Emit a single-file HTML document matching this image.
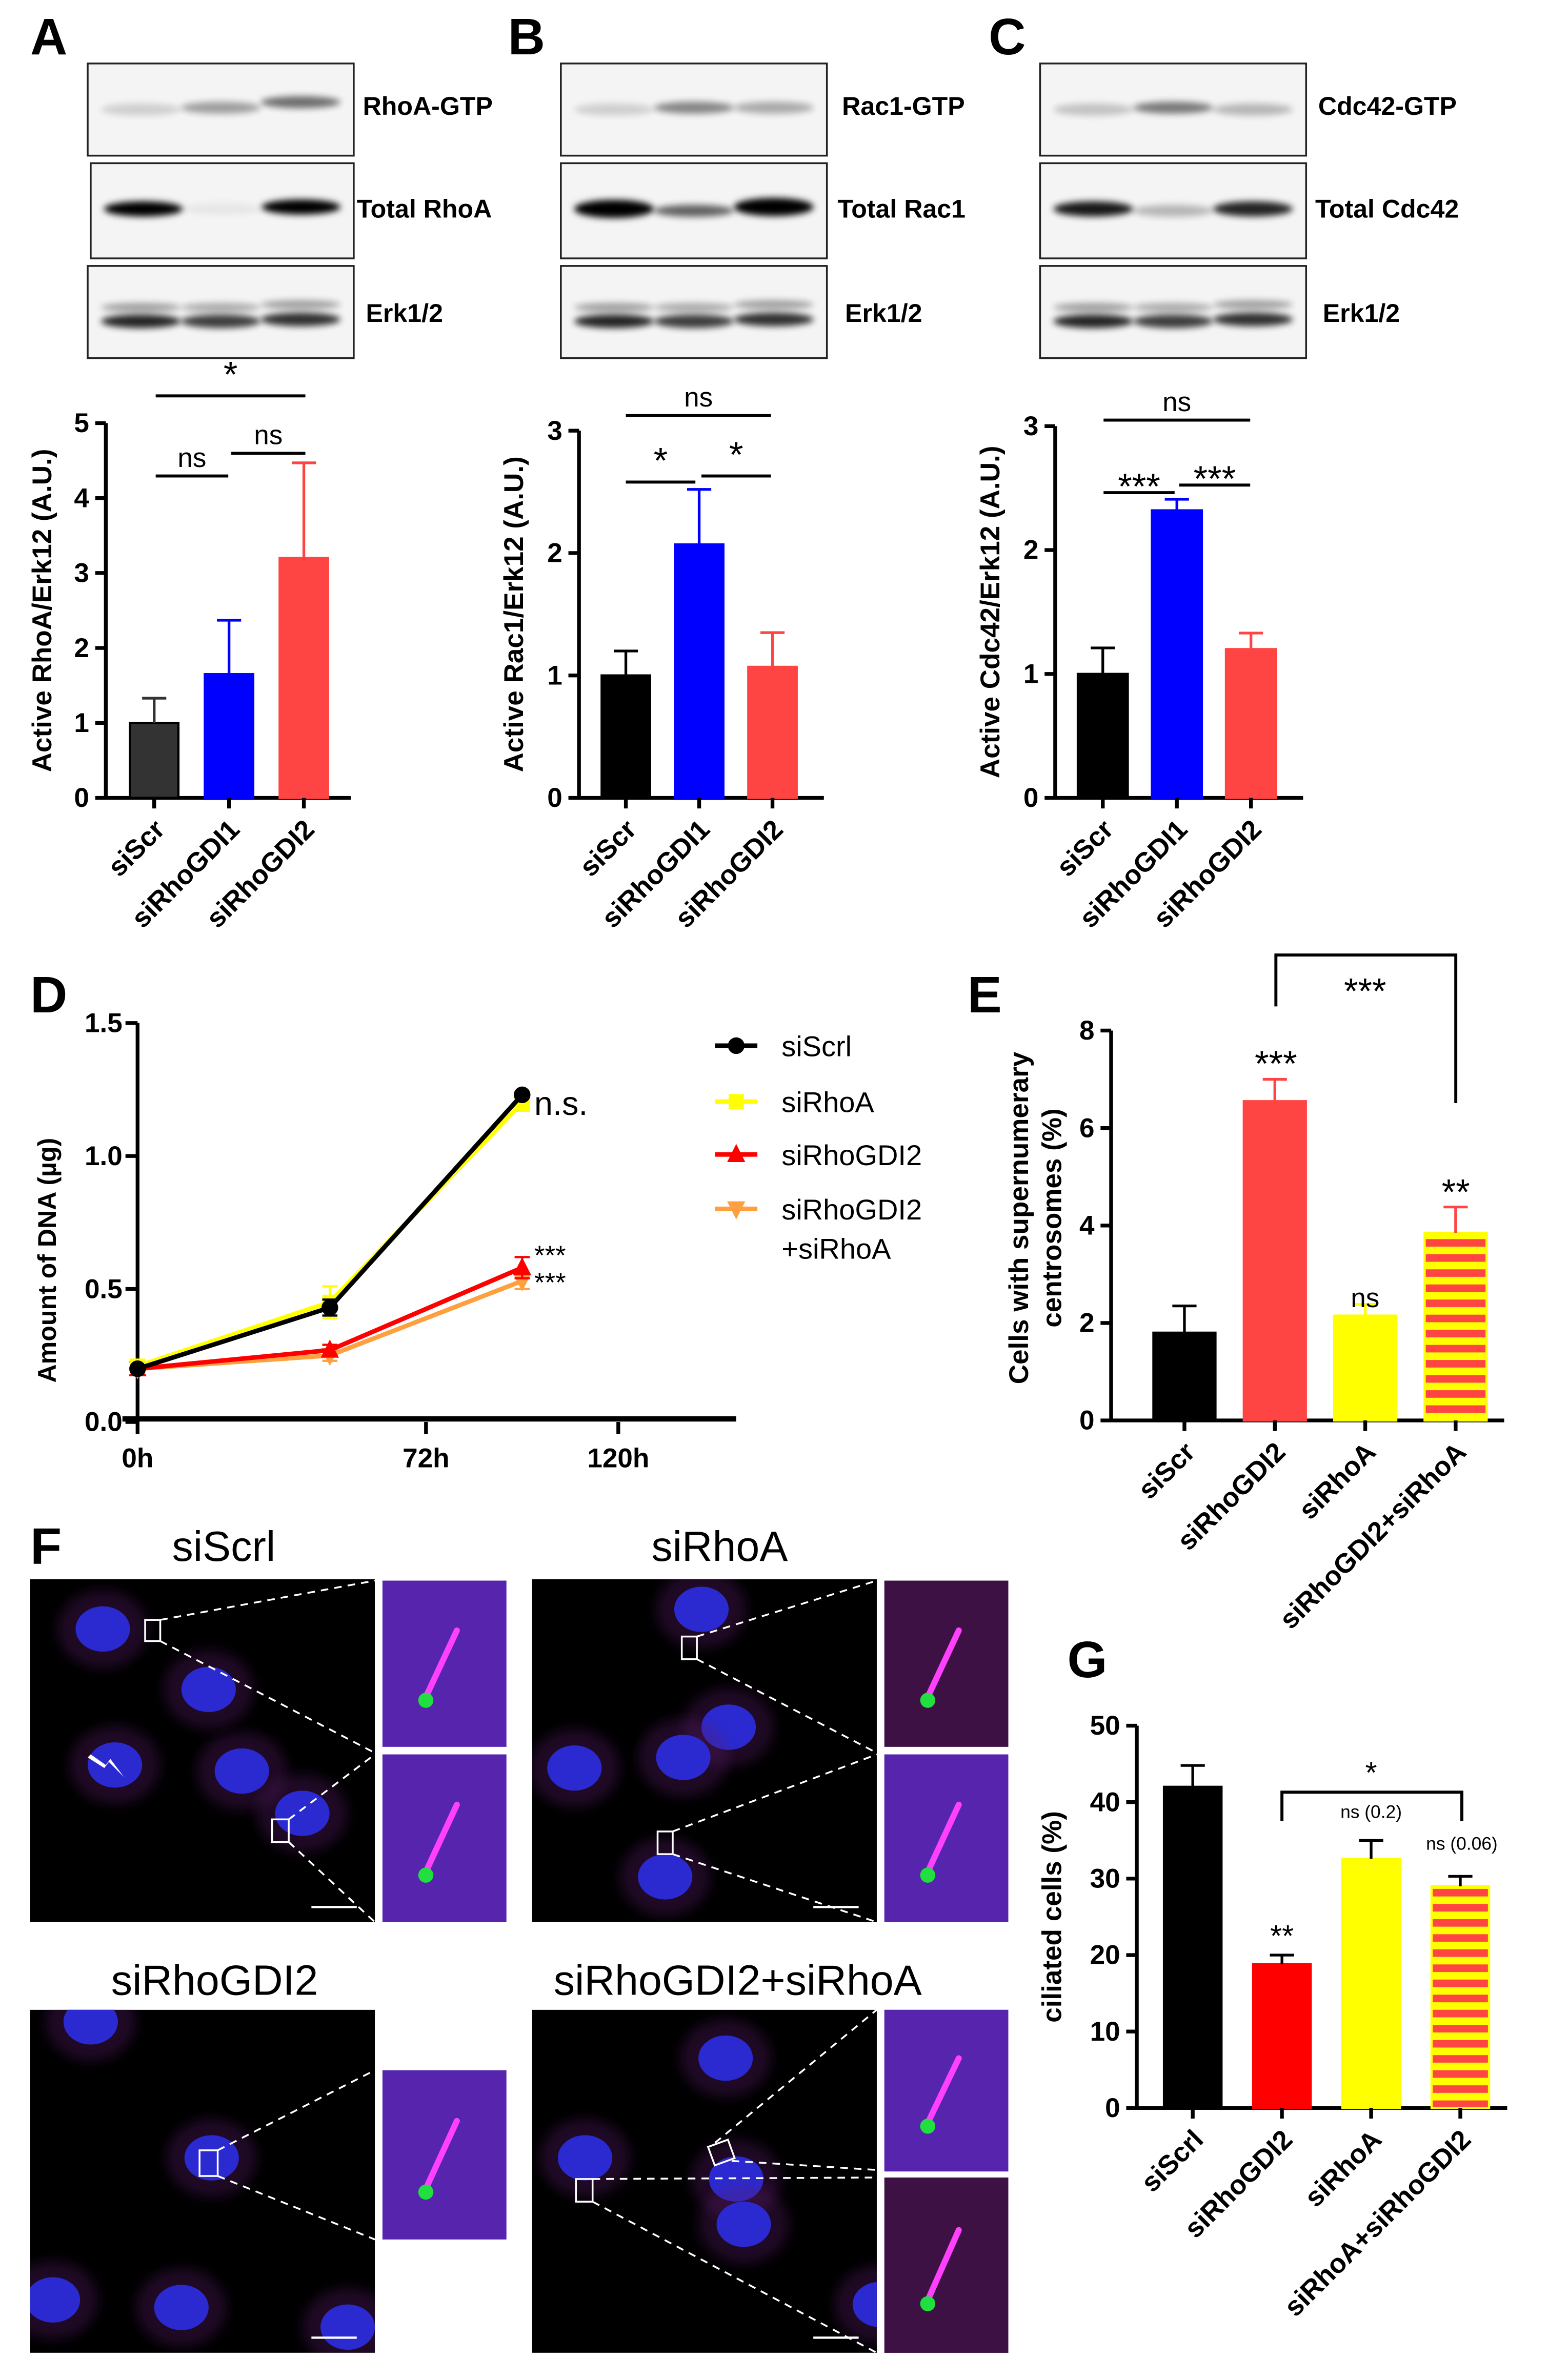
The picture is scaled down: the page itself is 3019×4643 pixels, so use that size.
<!DOCTYPE html>
<html><head><meta charset="utf-8"><style>
html,body{margin:0;padding:0;background:#fff}
svg{display:block}
text{font-family:"Liberation Sans",Arial,sans-serif}
</style></head><body>
<svg id="fig" width="3019" height="4643" viewBox="0 0 1024 1575" preserveAspectRatio="none" xmlns="http://www.w3.org/2000/svg">
<defs>
<filter id="blur" x="-50%" y="-200%" width="200%" height="500%"><feGaussianBlur stdDeviation="2.2"/></filter>
<filter id="blur2" x="-50%" y="-50%" width="200%" height="200%"><feGaussianBlur stdDeviation="4"/></filter>
<pattern id="stripe" width="10" height="10" patternUnits="userSpaceOnUse"><rect width="10" height="10" fill="#ffff00"/><rect width="10" height="5" fill="#ff4444"/></pattern>
<pattern id="stripeG" width="10" height="10" patternUnits="userSpaceOnUse"><rect width="10" height="10" fill="#ffff00"/><rect width="10" height="5" fill="#ff4444"/></pattern>
</defs>
<g id="root"></g>
</svg>
<script>
// ---------- DATA ----------
const catsABC = ["siScr","siRhoGDI1","siRhoGDI2"];
const rhoaVals = [1.0, 1.65, 3.2];
const rhoaErr = [1.33, 2.37, 4.47];
const rac1Vals = [1.0, 2.07, 1.07];
const rac1Err = [1.2, 2.52, 1.35];
const cdc42Vals = [1.0, 2.32, 1.2];
const cdc42Err = [1.21, 2.41, 1.33];
const ticksA = [0,1,2,3,4,5];
const ticksBC = [0,1,2,3];

const timeH = [0, 48, 96];
const dScrl = [0.2, 0.43, 1.23];
const dRhoA = [0.21, 0.45, 1.2];
const dGDI2 = [0.2, 0.27, 0.58];
const dGDI2RhoA = [0.2, 0.25, 0.53];
const dErrScrl = [0.01, 0.03, 0.01];
const dErrRhoA = [0.01, 0.06, 0.03];
const dErrGDI2 = [0.01, 0.02, 0.04];
const dErrGDI2RhoA = [0.01, 0.02, 0.03];
const ticksDy = [0, 0.5, 1.0, 1.5];
const ticksDx = [0, 72, 120];

const catsE = ["siScr","siRhoGDI2","siRhoA","siRhoGDI2+siRhoA"];
const eVals = [1.8, 6.55, 2.15, 3.85];
const eErr = [2.35, 7.0, 2.38, 4.38];
const ticksE = [0,2,4,6,8];

const catsG = ["siScrl","siRhoGDI2","siRhoA","siRhoA+siRhoGDI2"];
const gVals = [42, 18.8, 32.6, 29];
const gErr = [44.8, 20.0, 35.0, 30.3];
const ticksG = [0,10,20,30,40,50];

// ---------- HELPERS ----------
const NS="http://www.w3.org/2000/svg";
const root=document.getElementById('root');
const defs=document.querySelector('defs');
function el(tag,attrs,parent,txt){const e=document.createElementNS(NS,tag);for(const k in attrs)e.setAttribute(k,attrs[k]);if(txt!==undefined)e.textContent=txt;(parent||root).appendChild(e);return e;}
function grp(name){const g=el('g',{});


return g;}
function label(t,x,y){const e=el('text',{x:x,y:y,'font-size':34,'font-weight':'bold'},root,t);

}

// ---------- BLOTS ----------
function blot(name,x,y,w,h,bands){const g=grp(name);
el('rect',{x:x,y:y,width:w,height:h,fill:'#f4f4f4',stroke:'#222','stroke-width':1.2},g);
bands.forEach(b=>{el('ellipse',{cx:x+w*b[0],cy:y+h*b[1],rx:w*0.15,ry:b[3],fill:'#000',opacity:b[2],filter:'url(#blur)'},g);});
return g;}
function blotLabel(t,x,y){const e=el('text',{x:x,y:y,'font-size':17,'font-weight':'bold'},root,t);

}
function erk(name,x,y,w,h){return blot(name,x,y,w,h,[[0.2,0.45,0.35,3],[0.5,0.45,0.3,3],[0.8,0.42,0.35,3],[0.2,0.6,0.85,4.5],[0.5,0.6,0.75,4.5],[0.8,0.58,0.8,4.5]]);}

// ---------- BAR CHART ----------
function barChart(opt){
 const g=grp(opt.name);
 const y=v=>opt.y0-(v/opt.ymax)*(opt.y0-opt.ytop);
 el('line',{x1:opt.ax,y1:opt.ytop,x2:opt.ax,y2:opt.y0+1,stroke:'#000','stroke-width':2.5},g);
 el('line',{x1:opt.ax,y1:opt.y0,x2:opt.xend,y2:opt.y0,stroke:'#000','stroke-width':2.5},g);
 opt.ticks.forEach(t=>{el('line',{x1:opt.ax-7,y1:y(t),x2:opt.ax,y2:y(t),stroke:'#000','stroke-width':2.5},g);
  el('text',{x:opt.ax-11,y:y(t)+6,'font-size':opt.tfs||18,'font-weight':'bold','text-anchor':'end'},g,String(t));});
 opt.vals.forEach((v,i)=>{const bx=opt.x0+i*opt.step;
  const r=el('rect',{x:bx,y:y(v),width:opt.bw,height:opt.y0-y(v),fill:opt.fills[i],stroke:opt.strokes?opt.strokes[i]:'#000','stroke-width':1.5},g);
  
  
  const cx=bx+opt.bw/2, ec=opt.errc[i];
  el('line',{x1:cx,y1:y(v),x2:cx,y2:y(opt.err[i]),stroke:ec,'stroke-width':1.8},g);
  el('line',{x1:cx-8,y1:y(opt.err[i]),x2:cx+8,y2:y(opt.err[i]),stroke:ec,'stroke-width':1.8},g);
  el('line',{x1:cx,y1:opt.y0,x2:cx,y2:opt.y0+7,stroke:'#000','stroke-width':2.5},g);
  const tx=cx+8, ty=opt.y0+22;
  el('text',{x:tx,y:ty,'font-size':opt.cfs||18,'font-weight':'bold','text-anchor':'end',transform:`rotate(-45 ${tx} ${ty})`},g,opt.cats[i]);
 });
 const tl=el('text',{x:0,y:0,'font-size':opt.yfs||18,'font-weight':'bold','text-anchor':'middle',transform:`translate(${opt.ylx},${(opt.y0+opt.ytop)/2+opt.yloff}) rotate(-90)`},g);
 opt.ylabel.forEach((l,k)=>{el('tspan',{x:0,dy:k?22:0},tl,l);});
 
 
 return {g,y,cx:i=>opt.x0+i*opt.step+opt.bw/2};
}
function sig(g,x1,x2,yy,t,fs,dy){el('line',{x1:x1,y1:yy,x2:x2,y2:yy,stroke:'#000','stroke-width':2},g);
 el('text',{x:(x1+x2)/2,y:yy-(dy||6),'font-size':fs||18,'text-anchor':'middle'},g,t);}

// Panel A
label('A',20,36);
blot('blot-rhoa-gtp',58,42,176,61,[[0.2,0.5,0.15,4],[0.5,0.48,0.35,4],[0.8,0.42,0.55,4]]);
blotLabel('RhoA-GTP',240,76);
blot('blot-total-rhoa',60,108,174,63,[[0.2,0.48,1,5],[0.5,0.48,0.05,4],[0.8,0.46,1,5]]);
blotLabel('Total RhoA',236,144);
erk('blot-erk-a',58,176,176,61);
blotLabel('Erk1/2',242,213);
let A=barChart({name:'chart-a',ax:70,ytop:280,y0:528,ymax:5,xend:232,ticks:ticksA,vals:rhoaVals,err:rhoaErr,cats:catsABC,x0:86,step:49.5,bw:32,
 fills:['#333333','#0000ff','#ff4444'],strokes:['#000','#0000ff','#ff4444'],errc:['#333','#0000ff','#ff4444'],ylabel:['Active RhoA/Erk12 (A.U.)'],ylx:34,yloff:0});
sig(A.g,103,202,262,'*',24,0);sig(A.g,103,151,315,'ns');sig(A.g,153,202,300,'ns');

// Panel B
label('B',336,36);
blot('blot-rac1-gtp',371,42,176,61,[[0.2,0.5,0.15,4],[0.5,0.48,0.45,4],[0.8,0.48,0.3,4]]);
blotLabel('Rac1-GTP',557,76);
blot('blot-total-rac1',371,108,176,63,[[0.2,0.48,1,6],[0.5,0.5,0.6,4],[0.8,0.46,1,6]]);
blotLabel('Total Rac1',554,144);
erk('blot-erk-b',371,176,176,61);
blotLabel('Erk1/2',559,213);
let B=barChart({name:'chart-b',ax:383,ytop:285,y0:528,ymax:3,xend:545,ticks:ticksBC,vals:rac1Vals,err:rac1Err,cats:catsABC,x0:398,step:48.5,bw:32,
 fills:['#000','#0000ff','#ff4444'],strokes:['#000','#0000ff','#ff4444'],errc:['#000','#0000ff','#ff4444'],ylabel:['Active Rac1/Erk12 (A.U.)'],ylx:346,yloff:0});
sig(B.g,414,510,275,'ns');sig(B.g,414,460,319,'*',24,0);sig(B.g,464,510,315,'*',24,0);

// Panel C
label('C',654,36);
blot('blot-cdc42-gtp',688,42,176,61,[[0.2,0.5,0.2,4],[0.5,0.48,0.5,4],[0.8,0.5,0.25,4]]);
blotLabel('Cdc42-GTP',872,76);
blot('blot-total-cdc42',688,108,176,63,[[0.2,0.48,0.9,5],[0.5,0.5,0.25,4],[0.8,0.48,0.85,5]]);
blotLabel('Total Cdc42',870,144);
erk('blot-erk-c',688,176,176,61);
blotLabel('Erk1/2',875,213);
let C=barChart({name:'chart-c',ax:698,ytop:282,y0:528,ymax:3,xend:862,ticks:ticksBC,vals:cdc42Vals,err:cdc42Err,cats:catsABC,x0:713,step:49,bw:33,
 fills:['#000','#0000ff','#ff4444'],strokes:['#000','#0000ff','#ff4444'],errc:['#000','#0000ff','#ff4444'],ylabel:['Active Cdc42/Erk12 (A.U.)'],ylx:661,yloff:0});
sig(C.g,730,827,278,'ns');sig(C.g,730,777,326,'***',24,-4);sig(C.g,780,827,321,'***',24,-4);

// Panel D line chart
label('D',20,670);
(function(){
 const g=grp('chart-d');
 const ax=91, y0=941, ytop=677, ymax=1.5, xend=487;
 const X=h=>ax+h*2.65, Y=v=>y0-(v/ymax)*(y0-ytop);
 el('line',{x1:ax,y1:ytop,x2:ax,y2:y0,stroke:'#000','stroke-width':2.5},g);
 el('line',{x1:ax-10,y1:y0-2,x2:xend,y2:y0-2,stroke:'#000','stroke-width':3.5},g);
 ticksDy.forEach(t=>{el('line',{x1:ax-8,y1:Y(t),x2:ax,y2:Y(t),stroke:'#000','stroke-width':2.5},g);
  el('text',{x:ax-10,y:Y(t)+6,'font-size':18,'font-weight':'bold','text-anchor':'end'},g,t.toFixed(1));});
 ticksDx.forEach(t=>{el('line',{x1:X(t),y1:y0,x2:X(t),y2:y0+8,stroke:'#000','stroke-width':2.5},g);
  el('text',{x:X(t),y:y0+30,'font-size':18,'font-weight':'bold','text-anchor':'middle'},g,t+'h');});
 const yl=el('text',{x:0,y:0,'font-size':17,'font-weight':'bold','text-anchor':'middle',transform:`translate(37,${(y0+ytop)/2+25}) rotate(-90)`},g,'Amount of DNA (µg)');
 
 
 const series=[[dGDI2RhoA,dErrGDI2RhoA,'#ffa040','tri-down'],[dGDI2,dErrGDI2,'#ff0000','tri'],[dRhoA,dErrRhoA,'#ffff00','sq'],[dScrl,dErrScrl,'#000','circ']];
 series.forEach(s=>{
  const sg=el('g',{},g);
  
  
  el('polyline',{points:s[0].map((v,i)=>X(timeH[i])+','+Y(v)).join(' '),fill:'none',stroke:s[2],'stroke-width':3},sg);
  s[0].forEach((v,i)=>{const cx=X(timeH[i]),cy=Y(v);
   el('line',{x1:cx,y1:Y(v-s[1][i]),x2:cx,y2:Y(v+s[1][i]),stroke:s[2],'stroke-width':1.5},sg);
   el('line',{x1:cx-5,y1:Y(v+s[1][i]),x2:cx+5,y2:Y(v+s[1][i]),stroke:s[2],'stroke-width':1.5},sg);
   el('line',{x1:cx-5,y1:Y(v-s[1][i]),x2:cx+5,y2:Y(v-s[1][i]),stroke:s[2],'stroke-width':1.5},sg);
   marker(sg,s[3],cx,cy,s[2]);});
 });
 el('text',{x:X(96)+8,y:Y(1.2)+8,'font-size':22},g,'n.s.');
 el('text',{x:X(96)+8,y:Y(0.58)-2,'font-size':18},g,'***');
 el('text',{x:X(96)+8,y:Y(0.58)+16,'font-size':18},g,'***');
 const leg=[['siScrl','#000','circ',692],['siRhoA','#ffff00','sq',729],['siRhoGDI2','#ff0000','tri',764],['siRhoGDI2','#ffa040','tri-down',800]];
 leg.forEach(l=>{const lg=el('g',{},g);
  
  
  el('line',{x1:473,y1:l[3],x2:501,y2:l[3],stroke:l[1],'stroke-width':3},lg);marker(lg,l[2],487,l[3],l[1]);
  el('text',{x:517,y:l[3]+7,'font-size':19},lg,l[0]);});
 el('text',{x:517,y:833,'font-size':19},g,'+siRhoA');
})();
function marker(g,t,x,y,c){
 if(t==='circ')el('circle',{cx:x,cy:y,r:5.5,fill:c},g);
 else if(t==='sq')el('rect',{x:x-5,y:y-5,width:10,height:10,fill:c},g);
 else if(t==='tri')el('polygon',{points:`${x},${y-7} ${x+6},${y+5} ${x-6},${y+5}`,fill:c},g);
 else el('polygon',{points:`${x},${y+7} ${x+6},${y-5} ${x-6},${y-5}`,fill:c},g);
}

// Panel E
label('E',640,670);
let E=barChart({name:'chart-e',ax:735,ytop:682,y0:940,ymax:8,xend:995,ticks:ticksE,vals:eVals,err:eErr,cats:catsE,x0:763,step:59.8,bw:41,
 fills:['#000','#ff4444','#ffff00','url(#stripe)'],strokes:['#000','#ff4444','#ffff00','#ffff00'],errc:['#000','#ff4444','#ffff00','#ff4444'],ylabel:['Cells with supernumerary','centrosomes (%)'],ylx:680,yloff:-5});
el('polyline',{points:'844,666 844,632 963,632 963,730',fill:'none',stroke:'#000','stroke-width':2},E.g);
el('text',{x:903,y:664,'font-size':24,'text-anchor':'middle'},E.g,'***');
el('text',{x:844,y:712,'font-size':24,'text-anchor':'middle'},E.g,'***');
el('text',{x:903,y:865,'font-size':18,'text-anchor':'middle'},E.g,'ns');
el('text',{x:963,y:797,'font-size':24,'text-anchor':'middle'},E.g,'**');

// Panel F micrographs
label('F',20,1035);
function title(t,x,y){const e=el('text',{x:x,y:y,'font-size':28,'text-anchor':'middle'},root,t);
 
 }
title('siScrl',148,1033);title('siRhoA',476,1033);title('siRhoGDI2',142,1320);title('siRhoGDI2+siRhoA',488,1320);
let clipN=0;
function micro(name,x,y,w,h,nuclei){const g=grp(name);
 const cp=el('clipPath',{id:'cp'+(++clipN)},defs);el('rect',{x:x,y:y,width:w,height:h},cp);
 g.setAttribute('clip-path','url(#cp'+clipN+')');
 el('rect',{x:x,y:y,width:w,height:h,fill:'#000'},g);
 nuclei.forEach(n=>{el('ellipse',{cx:x+n[0],cy:y+n[1],rx:30,ry:26,fill:'#5a1a6a',opacity:0.35,filter:'url(#blur2)'},g);
  el('ellipse',{cx:x+n[0],cy:y+n[1],rx:18,ry:15,fill:'#2a2ad0'},g);});
 el('line',{x1:x+w-42,y1:y+h-10,x2:x+w-12,y2:y+h-10,stroke:'#fff','stroke-width':1.5},g);
 return g;}
function inset(name,x,y,w,h,blue){const g=grp(name);
 el('rect',{x:x,y:y,width:w,height:h,fill:blue?'#3a22a8':'#1a0822'},g);
 el('rect',{x:x,y:y,width:w,height:h,fill:'#c030c0',opacity:0.22},g);
 el('line',{x1:x+w*0.35,y1:y+h*0.7,x2:x+w*0.6,y2:y+h*0.3,stroke:'#ff40ff','stroke-width':4,'stroke-linecap':'round'},g);
 el('circle',{cx:x+w*0.35,cy:y+h*0.72,r:5,fill:'#20e040'},g);
 return g;}
function dash(x1,y1,x2,y2){el('line',{x1:x1,y1:y1,x2:x2,y2:y2,stroke:'#fff','stroke-width':1.2,'stroke-dasharray':'5,4'});}
micro('micrograph-siscrl',20,1045,228,227,[[48,33],[140,127],[56,123],[118,73],[180,155]]);
inset('inset-siscrl-1',253,1046,82,110,true);inset('inset-siscrl-2',253,1161,82,111,true);
el('rect',{x:96,y:1072,width:10,height:14,fill:'none',stroke:'#fff','stroke-width':1.2});
el('rect',{x:180,y:1204,width:11,height:15,fill:'none',stroke:'#fff','stroke-width':1.2});
dash(106,1072,248,1046);dash(106,1086,248,1160);dash(191,1204,248,1161);dash(191,1219,248,1272);
micro('micrograph-sirhoa',352,1045,228,227,[[112,20],[130,98],[28,125],[100,118],[88,197]]);
inset('inset-sirhoa-1',585,1046,82,110,false);inset('inset-sirhoa-2',585,1161,82,111,true);
el('rect',{x:451,y:1083,width:10,height:15,fill:'none',stroke:'#fff','stroke-width':1.2});
el('rect',{x:435,y:1212,width:10,height:15,fill:'none',stroke:'#fff','stroke-width':1.2});
dash(461,1083,580,1046);dash(461,1098,580,1160);dash(445,1212,580,1161);dash(445,1227,580,1272);
micro('micrograph-sirhogdi2',20,1330,228,227,[[40,8],[120,98],[15,192],[100,197],[210,210]]);
inset('inset-sirhogdi2',253,1370,82,112,true);
el('rect',{x:132,y:1423,width:12,height:17,fill:'none',stroke:'#fff','stroke-width':1.2});
dash(144,1423,248,1370);dash(144,1440,248,1482);
micro('micrograph-sirhogdi2-sirhoa',352,1330,228,227,[[35,98],[128,32],[135,112],[140,142],[230,195]]);
inset('inset-sirhogdi2-sirhoa-1',585,1330,82,107,true);inset('inset-sirhogdi2-sirhoa-2',585,1441,82,116,false);
el('rect',{x:470,y:1418,width:14,height:13,fill:'none',stroke:'#fff','stroke-width':1.2,transform:'rotate(-20 477 1424)'});
el('rect',{x:381,y:1442,width:11,height:15,fill:'none',stroke:'#fff','stroke-width':1.2});
dash(473,1418,580,1330);dash(484,1430,580,1436);dash(392,1442,580,1441);dash(392,1457,580,1557);
el('polygon',{points:'82,1176 72,1166 69,1170 58,1163 60,1161 70,1168 73,1164',fill:'#fff'});

// Panel G
label('G',706,1110);
let G=barChart({name:'chart-g',ax:752,ytop:1142,y0:1395,ymax:50,xend:997,ticks:ticksG,vals:gVals,err:gErr,cats:catsG,x0:770,step:59,bw:38,
 fills:['#000','#ff0000','#ffff00','url(#stripeG)'],strokes:['#000','#ff0000','#ffff00','#ffff00'],errc:['#000','#000','#000','#000'],ylabel:['ciliated cells (%)'],ylx:702,yloff:0});
el('polyline',{points:'848,1205 848,1186 967,1186 967,1205',fill:'none',stroke:'#000','stroke-width':2},G.g);
el('text',{x:907,y:1180,'font-size':20,'text-anchor':'middle'},G.g,'*');
el('text',{x:848,y:1288,'font-size':20,'text-anchor':'middle'},G.g,'**');
el('text',{x:907,y:1203,'font-size':12,'text-anchor':'middle'},G.g,'ns (0.2)');
el('text',{x:967,y:1224,'font-size':12,'text-anchor':'middle'},G.g,'ns (0.06)');
</script>
</body></html>
